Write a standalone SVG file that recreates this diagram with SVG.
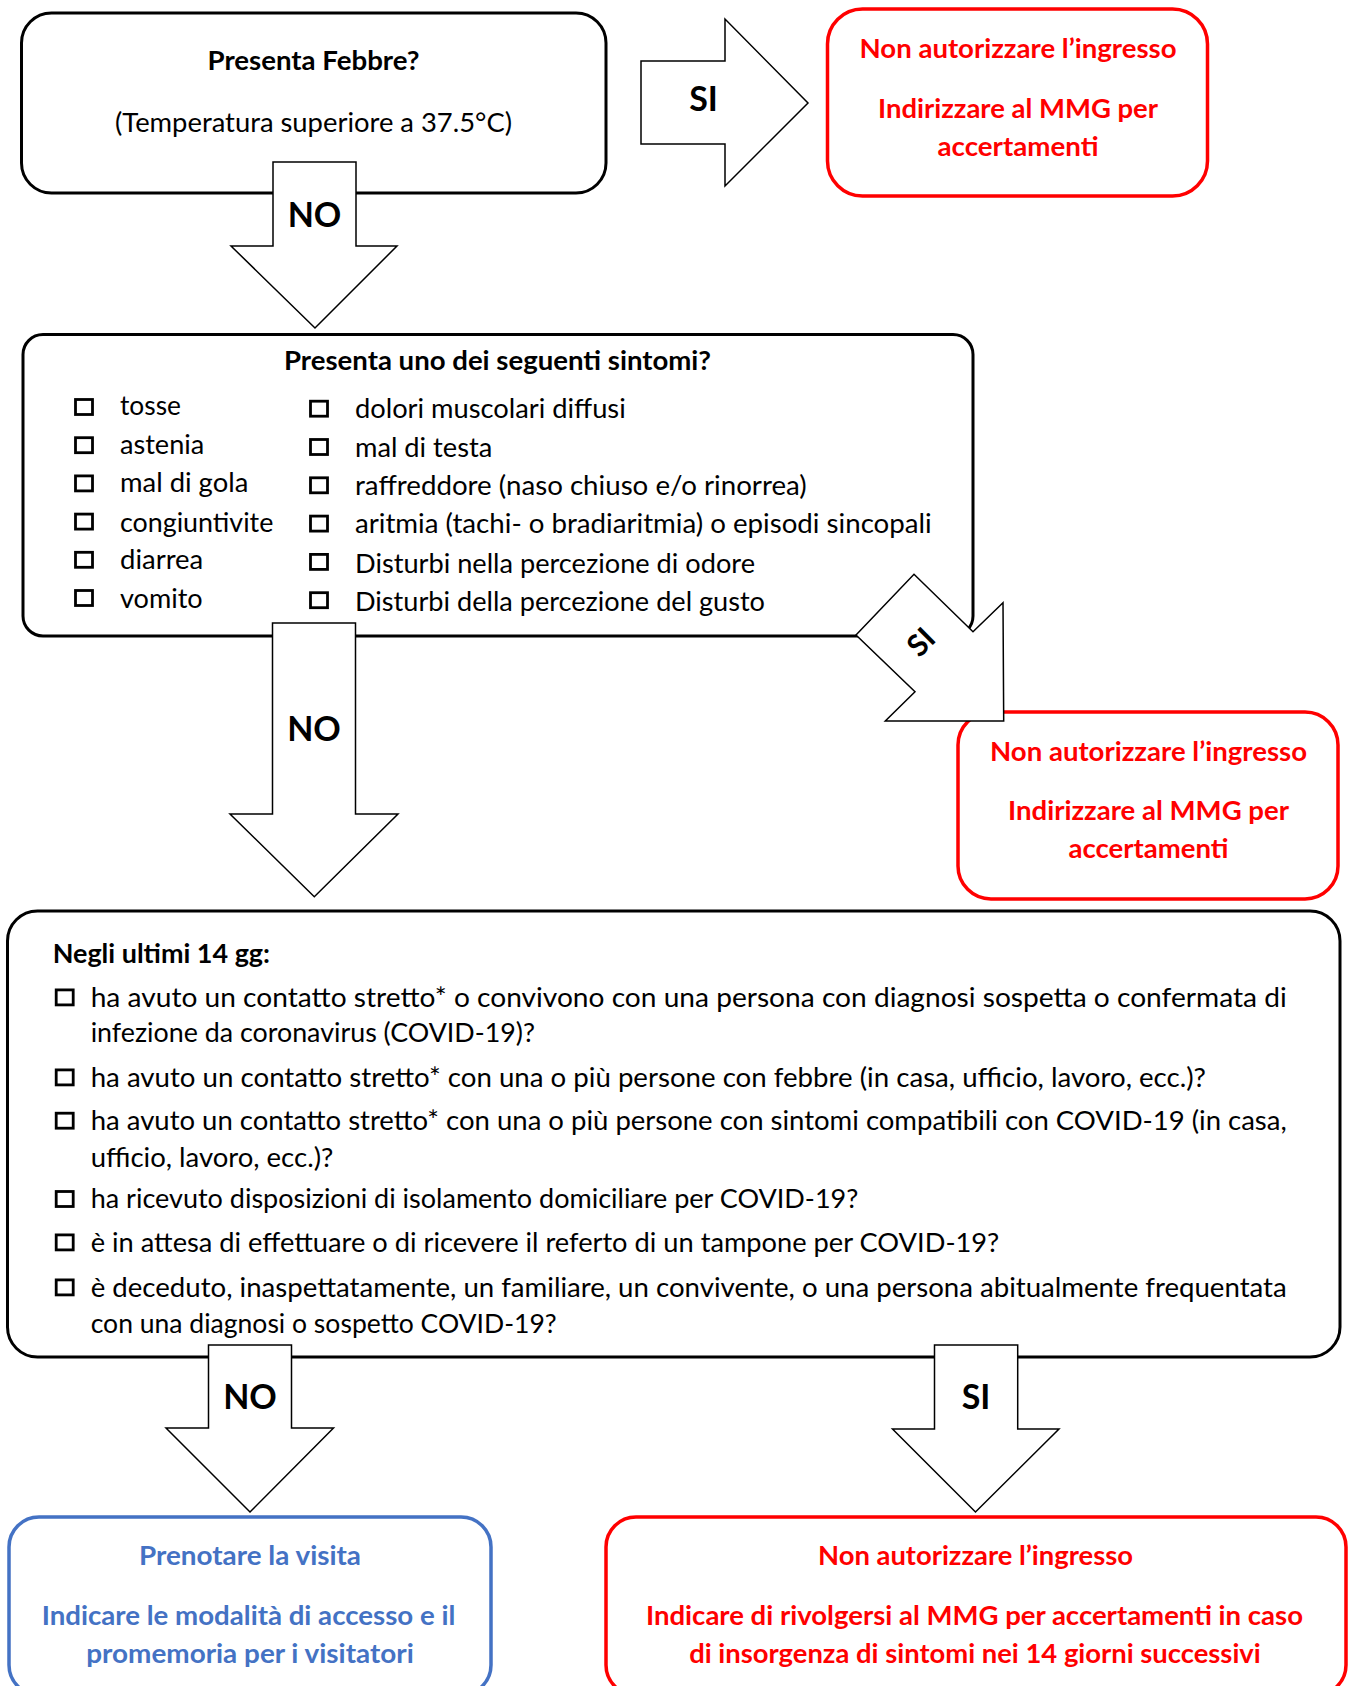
<svg xmlns="http://www.w3.org/2000/svg" width="1351" height="1686" viewBox="0 0 1351 1686">
<style>
text{font-family:Lato,"Liberation Sans",sans-serif;font-size:26.5px;fill:#000}
.b{font-weight:bold}
.c{text-anchor:middle}
.lab{font-weight:bold;font-size:34px;text-anchor:middle}
.red text{fill:#FF0000;font-weight:bold;text-anchor:middle}
.blue text{fill:#4472C4;font-weight:bold;text-anchor:middle}
.bx{fill:#fff;stroke:#000;stroke-width:3}
.rbx{fill:#fff;stroke:#FF0000;stroke-width:3.5}
.bbx{fill:#fff;stroke:#4472C4;stroke-width:3.5}
.cb{fill:none;stroke:#000;stroke-width:2.8}
.arr{fill:#fff;stroke:#000;stroke-width:1.5;stroke-linejoin:miter}
</style>
<rect width="1351" height="1686" fill="#fff"/>

<g id="q-febbre">
<rect class="bx" x="21.5" y="13" width="584.5" height="180" rx="30"/>
<text class="b c" x="313.5" y="70" textLength="212" lengthAdjust="spacingAndGlyphs">Presenta Febbre?</text>
<text class="c" x="313.5" y="131.5" textLength="397" lengthAdjust="spacingAndGlyphs">(Temperatura superiore a 37.5°C)</text>
</g>

<g id="stop-1" class="red">
<rect class="rbx" x="827.5" y="9" width="380" height="187" rx="35"/>
<text x="1018" y="58" textLength="317" lengthAdjust="spacingAndGlyphs">Non autorizzare l’ingresso</text>
<text x="1018" y="118" textLength="280" lengthAdjust="spacingAndGlyphs">Indirizzare al MMG per</text>
<text x="1018" y="156" textLength="161" lengthAdjust="spacingAndGlyphs">accertamenti</text>
</g>

<g id="q-sintomi">
<rect class="bx" x="23" y="334.5" width="950" height="301.5" rx="20"/>
<text class="b c" x="497.5" y="370" textLength="427" lengthAdjust="spacingAndGlyphs">Presenta uno dei seguenti sintomi?</text>
<rect class="cb" x="75.5" y="399.5" width="17" height="15"/>
<rect class="cb" x="75.5" y="437.7" width="17" height="15"/>
<rect class="cb" x="75.5" y="475.9" width="17" height="15"/>
<rect class="cb" x="75.5" y="514.1" width="17" height="15"/>
<rect class="cb" x="75.5" y="552.3" width="17" height="15"/>
<rect class="cb" x="75.5" y="590.5" width="17" height="15"/>
<text x="120" y="415" textLength="61" lengthAdjust="spacingAndGlyphs">tosse</text>
<text x="120" y="454" textLength="84.3" lengthAdjust="spacingAndGlyphs">astenia</text>
<text x="120" y="492.3" textLength="128.3" lengthAdjust="spacingAndGlyphs">mal di gola</text>
<text x="120" y="531.7" textLength="153.3" lengthAdjust="spacingAndGlyphs">congiuntivite</text>
<text x="120" y="569.3" textLength="83.3" lengthAdjust="spacingAndGlyphs">diarrea</text>
<text x="120" y="608.3" textLength="82.7" lengthAdjust="spacingAndGlyphs">vomito</text>
<rect class="cb" x="310.5" y="401.2" width="17" height="15"/>
<rect class="cb" x="310.5" y="439.5" width="17" height="15"/>
<rect class="cb" x="310.5" y="477.8" width="17" height="15"/>
<rect class="cb" x="310.5" y="516.1" width="17" height="15"/>
<rect class="cb" x="310.5" y="554.4" width="17" height="15"/>
<rect class="cb" x="310.5" y="592.7" width="17" height="15"/>
<text x="355" y="418.3" textLength="270.7" lengthAdjust="spacingAndGlyphs">dolori muscolari diffusi</text>
<text x="355" y="456.7" textLength="137.3" lengthAdjust="spacingAndGlyphs">mal di testa</text>
<text x="355" y="495" textLength="451.7" lengthAdjust="spacingAndGlyphs">raffreddore (naso chiuso e/o rinorrea)</text>
<text x="355" y="533.3" textLength="576.7" lengthAdjust="spacingAndGlyphs">aritmia (tachi- o bradiaritmia) o episodi sincopali</text>
<text x="355" y="572.7" textLength="400" lengthAdjust="spacingAndGlyphs">Disturbi nella percezione di odore</text>
<text x="355" y="611" textLength="410" lengthAdjust="spacingAndGlyphs">Disturbi della percezione del gusto</text>
</g>

<g id="stop-2" class="red">
<rect class="rbx" x="958" y="712" width="380" height="187" rx="33"/>
<text x="1148.5" y="761" textLength="317" lengthAdjust="spacingAndGlyphs">Non autorizzare l’ingresso</text>
<text x="1148.5" y="820" textLength="281" lengthAdjust="spacingAndGlyphs">Indirizzare al MMG per</text>
<text x="1148.5" y="857.7" textLength="160" lengthAdjust="spacingAndGlyphs">accertamenti</text>
</g>

<g id="q-contatti">
<rect class="bx" x="7.5" y="911" width="1332.5" height="446" rx="30"/>
<text class="b" x="52.7" y="963.3" textLength="217.3" lengthAdjust="spacingAndGlyphs">Negli ultimi 14 gg:</text>
<rect class="cb" x="56.2" y="989.9" width="17" height="15"/>
<rect class="cb" x="56.2" y="1069.9" width="17" height="15"/>
<rect class="cb" x="56.2" y="1113.2" width="17" height="15"/>
<rect class="cb" x="56.2" y="1191.5" width="17" height="15"/>
<rect class="cb" x="56.2" y="1234.9" width="17" height="15"/>
<rect class="cb" x="56.2" y="1279.9" width="17" height="15"/>
<text x="90.7" y="1006.7" textLength="1196" lengthAdjust="spacingAndGlyphs">ha avuto un contatto stretto* o convivono con una persona con diagnosi sospetta o confermata di</text>
<text x="90.7" y="1041.7" textLength="444.3" lengthAdjust="spacingAndGlyphs">infezione da coronavirus (COVID-19)?</text>
<text x="90.7" y="1086.7" textLength="1115.3" lengthAdjust="spacingAndGlyphs">ha avuto un contatto stretto* con una o più persone con febbre (in casa, ufficio, lavoro, ecc.)?</text>
<text x="90.7" y="1130" textLength="1196" lengthAdjust="spacingAndGlyphs">ha avuto un contatto stretto* con una o più persone con sintomi compatibili con COVID-19 (in casa,</text>
<text x="90.7" y="1166.7" textLength="242.6" lengthAdjust="spacingAndGlyphs">ufficio, lavoro, ecc.)?</text>
<text x="90.7" y="1208.3" textLength="767.6" lengthAdjust="spacingAndGlyphs">ha ricevuto disposizioni di isolamento domiciliare per COVID-19?</text>
<text x="90.7" y="1251.7" textLength="908.6" lengthAdjust="spacingAndGlyphs">è in attesa di effettuare o di ricevere il referto di un tampone per COVID-19?</text>
<text x="90.7" y="1296.7" textLength="1196" lengthAdjust="spacingAndGlyphs">è deceduto, inaspettatamente, un familiare, un convivente, o una persona abitualmente frequentata</text>
<text x="90.7" y="1333.3" textLength="466" lengthAdjust="spacingAndGlyphs">con una diagnosi o sospetto COVID-19?</text>
</g>

<g id="ok-visita" class="blue">
<rect class="bbx" x="9" y="1517" width="482" height="178" rx="30"/>
<text x="250" y="1565" textLength="222" lengthAdjust="spacingAndGlyphs">Prenotare la visita</text>
<text x="248.5" y="1625" textLength="413.6" lengthAdjust="spacingAndGlyphs">Indicare le modalità di accesso e il</text>
<text x="250" y="1663" textLength="327.6" lengthAdjust="spacingAndGlyphs">promemoria per i visitatori</text>
</g>

<g id="stop-3" class="red">
<rect class="rbx" x="606" y="1517" width="740" height="178" rx="30"/>
<text x="975.5" y="1565" textLength="315" lengthAdjust="spacingAndGlyphs">Non autorizzare l’ingresso</text>
<text x="974.5" y="1625" textLength="657" lengthAdjust="spacingAndGlyphs">Indicare di rivolgersi al MMG per accertamenti in caso</text>
<text x="975" y="1663" textLength="571.6" lengthAdjust="spacingAndGlyphs">di insorgenza di sintomi nei 14 giorni successivi</text>
</g>

<g id="connectors">
<polygon class="arr" points="641,61 725,61 725,19 808,103 725,186 725,144 641,144"/>
<text class="lab" x="703.5" y="111">SI</text>
<polygon class="arr" points="273,162 356,162 356,246 397,246 315,328 231,246 273,246"/>
<text class="lab" x="314.5" y="227">NO</text>
<polygon class="arr" points="856,635 914,574.3 973,631.7 1003,602.7 1003.7,721 885.3,721 915,691.7"/>
<text class="lab" style="font-size:30px" transform="translate(921,642) rotate(-45)" x="0" y="10.5">SI</text>
<polygon class="arr" points="272.5,623 355.5,623 355.5,814 398,814 314.3,896.7 230,814 272.5,814"/>
<text class="lab" x="314" y="740.7">NO</text>
<polygon class="arr" points="208.5,1345 291.5,1345 291.5,1428 333.5,1428 250,1512 166,1428 208.5,1428"/>
<text class="lab" x="250" y="1409">NO</text>
<polygon class="arr" points="934.5,1345 1017.7,1345 1017.7,1429 1059,1429 975.5,1512 892.5,1429 934.5,1429"/>
<text class="lab" x="976" y="1409">SI</text>
</g>
</svg>
